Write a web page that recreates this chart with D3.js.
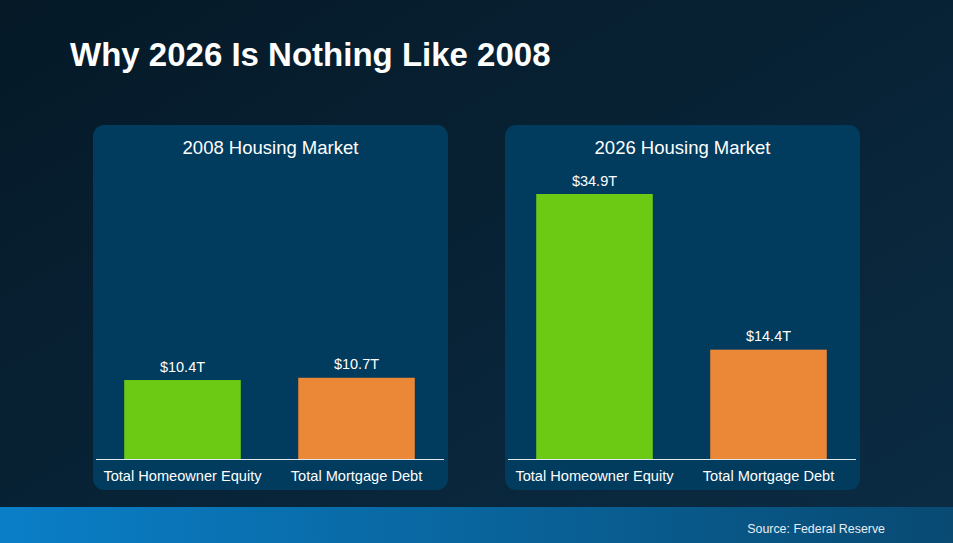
<!DOCTYPE html>
<html>
<head>
<meta charset="utf-8">
<script src="https://cdn.jsdelivr.net/npm/d3@7"></script>
<style>
  body { margin: 0; background: #061b2a; overflow: hidden; }
  svg { display: block; font-family: "Liberation Sans", Arial, sans-serif; }
</style>
</head>
<body>
<svg id="plot" width="953" height="543"></svg>
<script>
let categories = ["Total Homeowner Equity", "Total Mortgage Debt"];
let panels = ["2008 Housing Market", "2026 Housing Market"];
let values2008 = [10.4, 10.7];
let values2026 = [34.9, 14.4];
let valueLabels2008 = ["$10.4T", "$10.7T"];
let valueLabels2026 = ["$34.9T", "$14.4T"];

let width = 953, height = 543;
let barColours = d3.scaleOrdinal()
    .domain(categories)
    .range(["#6cc914", "#ea8837"]);

let svg = d3.select("#plot");
let defs = svg.append("defs");

let bg = defs.append("linearGradient").attr("id", "bg")
    .attr("x1", "0").attr("y1", "0").attr("x2", "1").attr("y2", "1");
bg.append("stop").attr("offset", "0%").attr("stop-color", "#051927");
bg.append("stop").attr("offset", "100%").attr("stop-color", "#0b2c44");

let band = defs.append("linearGradient").attr("id", "band")
    .attr("x1", "0").attr("y1", "0").attr("x2", "1").attr("y2", "0");
band.append("stop").attr("offset", "0%").attr("stop-color", "#0a7fc8");
band.append("stop").attr("offset", "100%").attr("stop-color", "#084a72");

svg.append("rect").attr("width", width).attr("height", height).attr("fill", "url(#bg)");
svg.append("rect").attr("y", 507).attr("width", width).attr("height", height - 507).attr("fill", "url(#band)");

svg.append("text")
    .attr("x", 70).attr("y", 66)
    .attr("fill", "white")
    .style("font-size", "33px").style("font-weight", "bold")
    .text("Why 2026 Is Nothing Like 2008");

svg.append("text")
    .attr("x", 885).attr("y", 533)
    .attr("text-anchor", "end")
    .attr("fill", "#e6eef5")
    .style("font-size", "12.4px")
    .text("Source: Federal Reserve");

// both panels share one value scale
let baseline = 459;
let y = d3.scaleLinear()
    .domain([0, 34.9])
    .range([baseline, 194]);

let panelData = [
  { title: panels[0], values: values2008, labels: valueLabels2008, x0: 93 },
  { title: panels[1], values: values2026, labels: valueLabels2026, x0: 505 }
];

panelData.forEach(p => {
  let g = svg.append("g");

  g.append("rect")
      .attr("x", p.x0).attr("y", 125)
      .attr("width", 355).attr("height", 365)
      .attr("rx", 11)
      .attr("fill", "#013b5e");

  g.append("text")
      .attr("x", p.x0 + 177.5).attr("y", 154)
      .attr("text-anchor", "middle")
      .attr("fill", "white")
      .style("font-size", "18.5px")
      .text(p.title);

  let x = d3.scaleBand()
      .domain(categories)
      .range([p.x0 + 2.5, p.x0 + 350.5])
      .paddingInner(0.33)
      .paddingOuter(0.165);

  g.selectAll("rect.bar")
    .data(categories)
    .join("rect")
      .attr("class", "bar")
      .attr("x", d => x(d))
      .attr("y", (d, i) => y(p.values[i]))
      .attr("width", x.bandwidth())
      .attr("height", (d, i) => baseline - y(p.values[i]))
      .attr("fill", d => barColours(d));

  g.selectAll("text.value")
    .data(categories)
    .join("text")
      .attr("class", "value")
      .attr("x", d => x(d) + x.bandwidth() / 2)
      .attr("y", (d, i) => y(p.values[i]) - 8.5)
      .attr("text-anchor", "middle")
      .attr("fill", "white")
      .style("font-size", "14.5px")
      .text((d, i) => p.labels[i]);

  let xAxis = g.append("g")
      .attr("transform", `translate(0, ${baseline})`)
      .call(d3.axisBottom(x).tickSize(0).tickPadding(12).tickSizeOuter(0));
  xAxis.select(".domain").attr("stroke", "#dfe8ef").attr("stroke-width", 1.2);
  xAxis.selectAll(".tick text")
      .attr("fill", "white")
      .style("font-size", "14.6px")
      .style("font-family", "\"Liberation Sans\", Arial, sans-serif");
});
</script>
</body>
</html>
